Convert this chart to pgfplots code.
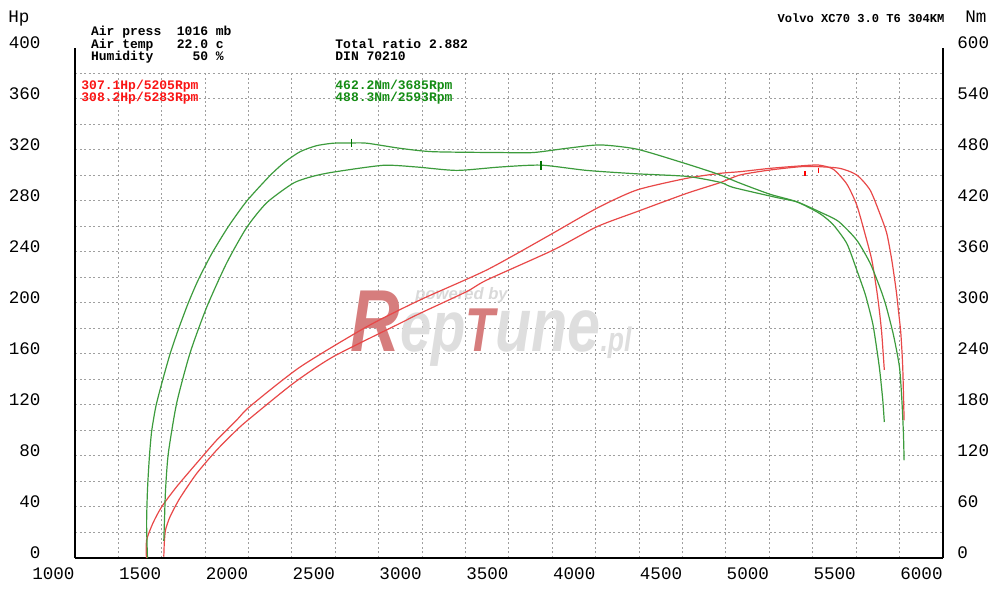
\documentclass[border=0pt]{standalone}
\usepackage{fontspec}
\setmainfont{Liberation Mono}
\newfontfamily\logofont{Liberation Sans}
\usepackage{pgfplots}
\pgfplotsset{compat=1.18}

\definecolor{pwr}{RGB}{232,72,72}
\definecolor{trq}{RGB}{60,155,60}
\definecolor{txtred}{RGB}{250,20,20}
\definecolor{txtgreen}{RGB}{20,140,20}
\definecolor{wmred}{RGB}{214,125,125}
\definecolor{wmgray}{RGB}{222,222,222}

\pgfplotsset{
  dyno/.style={at={(0pt,0pt)}, anchor=south west, scale only axis,
    width=434.05pt, xmin=1000, xmax=6000, major tick length=0pt,
    /pgf/number format/assume math mode=true, /pgf/number format/1000 sep={},
    tick label style={font=\fontsize{8.8}{10}\selectfont}},
}

\begin{document}
\begin{tikzpicture}
\path[use as bounding box] (-37.45pt,-16pt) rectangle (462.55pt,279pt);

% dotted grid, stops at 380 Hp
\begin{axis}[dyno, height=242.5pt, ymin=0, ymax=380,
  xtick={1000,1250,...,6000}, ytick={0,20,...,380},
  grid=major, grid style={gray!75, line width=0.5pt, dash pattern=on 1pt off 1.3pt},
  xticklabels={}, yticklabels={}, axis line style={draw=none}]
\end{axis}

% power, Hp
\begin{axis}[dyno, height=255pt, ymin=0, ymax=400, clip=false,
  axis x line=bottom, axis y line=left, axis line style={-},
  x axis line style={line width=1pt}, y axis line style={line width=0.8pt},
  xtick={1000,1500,...,6000}, ytick={0,40,...,400},
  xticklabel style={anchor=north east, inner sep=0pt, yshift=-4.5pt},
  yticklabel style={anchor=base east, inner sep=0pt, xshift=-17pt}]

\node[anchor=base west, inner sep=0pt] at (axis cs:2585,161.6)
  {\scalebox{0.78}[1]{\logofont\bfseries\itshape
   {\fontsize{44}{44}\selectfont\color{wmred}R}{\fontsize{36}{36}\selectfont\color{wmgray}ep}{\fontsize{31}{31}\selectfont\color{wmred}T}{\fontsize{38}{38}\selectfont\color{wmgray}une}{\fontsize{17}{17}\selectfont\color{wmgray}.pl}}};
\node[anchor=base west, inner sep=0pt] at (axis cs:2959,202.5)
  {\logofont\bfseries\itshape\fontsize{8.3}{9}\selectfont\color{gray!30}powered by};

% run 2
\addplot[pwr, line width=0.6pt, smooth, tension=0.4] coordinates {
(1412,0) (1413,14) (1450,27.5) (1500,40.2) (1586,55.9) (1702,74.5) (1817,92.5)
(1932,108.2) (2009,119) (2297,149.8) (2681,181.4) (2988,202.4) (3372,225.9)
(3718,252.0) (4006,274.3) (4236,288.6) (4524,297.8) (4716,301.7) (4831,303.0)
(5003,305.6) (5176,307.5) (5283,308.2) (5368,304.9) (5446,293.3) (5503,276.9)
(5551,254.1) (5590,233.7) (5618,210.2) (5633,194.5) (5647,176.5) (5662,147.5)
};
% run 1
\addplot[pwr, line width=0.6pt, smooth, tension=0.4] coordinates {
(1512,1) (1515,12) (1522,22) (1548,32.4) (1605,47) (1702,66.4) (1817,84.7)
(1932,100.4) (1995,108) (2258,137.0) (2488,157.9) (2873,184.1) (2988,191.9)
(3257,209) (3372,218.0) (3756,241.6) (4006,259.8) (4236,271.6) (4524,286.0)
(4716,294.4) (4831,300.4) (5003,304.3) (5205,307.1) (5398,305.8) (5503,300.4)
(5580,288.6) (5637,269.8) (5676,254.7) (5705,233.7) (5730,210.2) (5743,194.5)
(5757,176.5) (5768,150) (5776,108)
};
\addplot[red, only marks, mark=|, mark size=1.3pt, mark options={line width=0.8pt}]
  coordinates {(5205,301.5) (5283,304)};
\end{axis}

% torque, Nm
\begin{axis}[dyno, height=255pt, ymin=0, ymax=600,
  axis y line=right, axis x line=none, axis line style={-, line width=1pt},
  xtick=\empty, ytick={0,60,...,600},
  yticklabel style={anchor=base west, inner sep=0pt, xshift=7pt}]
% run 2
\addplot[trq, line width=0.6pt, smooth, tension=0.4] coordinates {
(1418,0) (1413,40) (1418,80) (1429,119) (1442,149) (1467,179) (1505,209)
(1548,240) (1596,269) (1653,300) (1710,327) (1788,358) (1884,390) (1990,420)
(2124,450) (2210,466) (2297,478) (2390,485) (2487,488) (2593,488.3) (2683,488)
(2873,482) (3063,478) (3449,477) (3639,477) (3833,482) (4024,486) (4237,481)
(4502,465) (4698,452) (4831,441) (5003,428) (5159,419) (5292,405) (5368,392)
(5446,370) (5503,339) (5551,311) (5576,292) (5599,272) (5633,225) (5653,186)
(5662,160)
};
% run 1
\addplot[trq, line width=0.6pt, smooth, tension=0.4] coordinates {
(1512,20) (1516,45) (1522,80) (1538,123) (1586,182) (1663,241) (1759,295)
(1874,347) (1990,389) (2105,418) (2258,441) (2370,449) (2488,454) (2776,462)
(2969,460) (3199,456) (3449,460) (3685,462.2) (3948,456) (4236,452) (4524,449)
(4716,442) (4791,436) (5044,424) (5159,419) (5292,407) (5398,396) (5503,374)
(5580,347) (5637,318) (5670,298) (5714,263) (5749,225) (5763,186) (5772,147)
(5776,115)
};
\addplot[green!45!black, only marks, mark=|, mark size=2.2pt, mark options={line width=0.8pt}]
  coordinates {(2593,488.3) (3685,462.2)};
\end{axis}

% header texts
\node[anchor=base west, inner sep=0pt, font=\fontsize{8.8}{10}\selectfont] at (-33.45pt,267.5pt) {Hp};
\node[anchor=base west, inner sep=0pt, font=\fontsize{8.8}{10}\selectfont] at (445pt,267.5pt) {Nm};
\node[anchor=base east, inner sep=0pt, font=\fontsize{6.05}{7}\selectfont\bfseries] at (435pt,267.5pt) {Volvo XC70 3.0 T6 304KM};

\begin{scope}[every node/.style={anchor=base west, inner sep=0pt, font=\fontsize{6.5}{7}\selectfont\bfseries}]
\node at (7.9pt,261pt) {Air press~~1016 mb};
\node at (7.9pt,254.75pt) {Air temp~~~22.0 c};
\node at (7.9pt,248.5pt) {Humidity~~~~~50 \%};
\node at (130.05pt,254.75pt) {Total ratio 2.882};
\node at (130.05pt,248.5pt) {DIN 70210};
\node[text=txtred] at (3.05pt,234pt) {307.1Hp/5205Rpm};
\node[text=txtred] at (3.05pt,228pt) {308.2Hp/5283Rpm};
\node[text=txtgreen] at (130.05pt,234pt) {462.2Nm/3685Rpm};
\node[text=txtgreen] at (130.05pt,228pt) {488.3Nm/2593Rpm};
\end{scope}
\end{tikzpicture}
\end{document}
